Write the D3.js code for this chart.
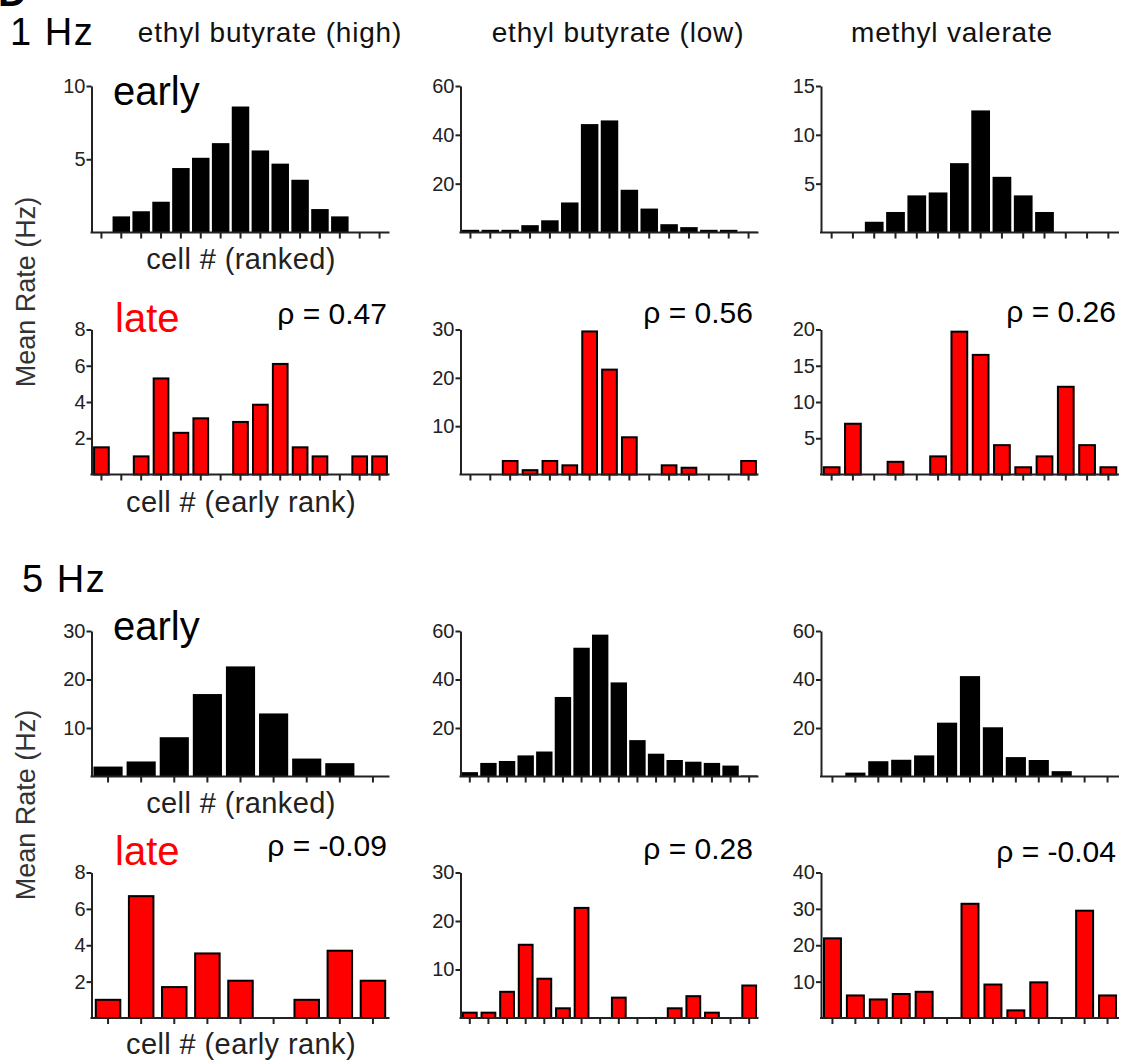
<!DOCTYPE html>
<html>
<head>
<meta charset="utf-8">
<script src="https://cdn.jsdelivr.net/npm/d3@7"></script>
<style>
  body { margin: 0; background: #fff; }
  svg { display: block; font-family: "Liberation Sans", Arial, sans-serif; }
  .axis path, .axis line { stroke: #222; stroke-width: 2; }
  .axis text { fill: #222; font-size: 20px; }
</style>
</head>
<body>
<svg id="fig" width="1121" height="1062"></svg>
<script>
const odors = ["ethyl butyrate (high)", "ethyl butyrate (low)", "methyl valerate"];

// mean rates, one array per odor, cells ordered by early rank
const early1Hz = [
    [0, 1.1, 1.45, 2.1, 4.4, 5.1, 6.1, 8.6, 5.6, 4.7, 3.6, 1.6, 1.1, 0, 0],
    [1.1, 1.1, 1.1, 3.0, 5.0, 12.3, 44.4, 45.9, 17.5, 9.8, 3.4, 2.2, 1.1, 1.1, 0.3],
    [0, 0, 1.1, 2.1, 3.8, 4.1, 7.1, 12.5, 5.7, 3.8, 2.1, 0, 0, 0]
];
const late1Hz = [
    [1.5, 0, 1.0, 5.3, 2.3, 3.1, 0, 2.9, 3.85, 6.1, 1.5, 1.0, 0, 1.0, 1.0],
    [0, 0, 2.8, 0.9, 2.8, 1.9, 29.6, 21.7, 7.7, 0, 1.9, 1.4, 0, 0, 2.8],
    [1.0, 7.0, 0, 1.75, 0, 2.5, 19.7, 16.5, 4.05, 1.0, 2.5, 12.1, 4.05, 1.0]
];
const early5Hz = [
    [2.05, 3.1, 8.1, 17.0, 22.7, 13.0, 3.7, 2.75, 0],
    [1.8, 5.6, 6.4, 8.7, 10.3, 32.8, 53.1, 58.5, 38.8, 15.0, 9.4, 6.8, 6.1, 5.6, 4.5, 0.4],
    [0, 1.6, 6.3, 6.9, 8.7, 22.2, 41.4, 20.3, 8.0, 6.8, 2.2, 0, 0]
];
const late5Hz = [
    [1.0, 6.7, 1.7, 3.55, 2.05, 0, 1.0, 3.7, 2.05],
    [1.1, 1.1, 5.4, 15.1, 8.1, 2.0, 22.7, 0, 4.2, 0, 0, 2.0, 4.5, 1.1, 0, 6.7],
    [21.9, 6.2, 5.1, 6.6, 7.2, 0, 31.4, 9.2, 2.1, 9.8, 0, 29.5, 6.2]
];

const rho1Hz = ["0.47", "0.56", "0.26"];
const rho5Hz = ["-0.09", "0.28", "-0.04"];

// y axis tick values per panel (last one is the axis top)
const ticksEarly1Hz = [[5, 10], [20, 40, 60], [5, 10, 15]];
const ticksLate1Hz = [[2, 4, 6, 8], [10, 20, 30], [5, 10, 15, 20]];
const ticksEarly5Hz = [[10, 20, 30], [20, 40, 60], [20, 40, 60]];
const ticksLate5Hz = [[2, 4, 6, 8], [10, 20, 30], [10, 20, 30, 40]];

const svg = d3.select("#fig");

const colLeft = [91.5, 460.5, 821],
    colWidth = 298,
    rows = [
        { top: 86, base: 232.5 },
        { top: 329.5, base: 474.5 },
        { top: 631, base: 776.5 },
        { top: 872.5, base: 1018 }
    ];

function drawPanel(values, ticks, col, row, late) {
    const x0 = colLeft[col],
        r = rows[row],
        yMax = ticks[ticks.length - 1];

    const x = d3.scaleBand()
        .domain(d3.range(values.length))
        .range([x0, x0 + colWidth])
        .paddingInner(late ? 0.26 : 0.12)
        .paddingOuter(late ? 0.13 : 0.06);

    const y = d3.scaleLinear()
        .domain([0, yMax])
        .range([r.base, r.top]);

    const g = svg.append("g");

    // only non-zero cells get a bar
    g.selectAll("rect")
        .data(d3.range(values.length).filter(function (i) { return values[i] > 0; }))
        .enter()
        .append("rect")
        .attr("x", function (i) { return x(i); })
        .attr("y", function (i) { return y(values[i]); })
        .attr("width", x.bandwidth())
        .attr("height", function (i) { return r.base - y(values[i]); })
        .attr("fill", late ? "#ff0000" : "#000")
        .attr("stroke", late ? "#000" : "none")
        .attr("stroke-width", 2);

    g.append("g")
        .attr("class", "axis")
        .attr("transform", "translate(" + x0 + ",0)")
        .call(d3.axisLeft(y).tickValues(ticks).tickSize(5).tickSizeOuter(0).tickPadding(1));

    g.append("g")
        .attr("class", "axis")
        .attr("transform", "translate(0," + r.base + ")")
        .call(d3.axisBottom(x).tickSize(6).tickSizeOuter(0).tickFormat(""))
        .select(".domain")
        .attr("d", "M" + (x0 - 1) + ",0H" + (x0 + colWidth));
}

[early1Hz, late1Hz, early5Hz, late5Hz].forEach(function (set, row) {
    const tickSet = [ticksEarly1Hz, ticksLate1Hz, ticksEarly5Hz, ticksLate5Hz][row];
    set.forEach(function (values, col) {
        drawPanel(values, tickSet[col], col, row, row % 2 === 1);
    });
});

// labels
function label(txt, xPos, yPos, size, opts) {
    opts = opts || {};
    const t = svg.append("text")
        .attr("x", xPos)
        .attr("y", yPos)
        .attr("font-size", size)
        .attr("fill", opts.fill || "#000")
        .attr("text-anchor", opts.anchor || "start")
        .text(txt);
    if (opts.bold) t.attr("font-weight", "bold");
    if (opts.spacing) t.attr("letter-spacing", opts.spacing);
    if (opts.rotate) t.attr("transform", "rotate(-90," + xPos + "," + yPos + ")");
    return t;
}

// panel letter, cut by the top edge as in the source figure
label("D", -2, 6, 40, { bold: true });
label("1 Hz", 10, 45, 38, { spacing: 1.5 });
label("5 Hz", 22, 592, 38, { spacing: 1.5 });

const titleX = [270, 618, 952];
odors.forEach(function (o, i) { label(o, titleX[i], 42, 28, { anchor: "middle", fill: "#111", spacing: 0.8 }); });

label("early", 113, 105, 40);
label("early", 113, 640, 40);
label("late", 115, 332, 40, { fill: "#ff0000" });
label("late", 115, 865, 40, { fill: "#ff0000" });

const rhoRight = [387, 753, 1116];
const rhoBase1 = [324, 323, 322];
const rhoBase5 = [856, 859, 862];
rho1Hz.forEach(function (v, i) { label("\u03c1 = " + v, rhoRight[i], rhoBase1[i], 30, { anchor: "end" }); });
rho5Hz.forEach(function (v, i) { label("\u03c1 = " + v, rhoRight[i], rhoBase5[i], 30, { anchor: "end" }); });

label("cell # (ranked)", 241, 269, 29, { anchor: "middle", fill: "#222", spacing: 0.4 });
label("cell # (early rank)", 241, 512, 29, { anchor: "middle", fill: "#222", spacing: 0.4 });
label("cell # (ranked)", 241, 813, 29, { anchor: "middle", fill: "#222", spacing: 0.4 });
label("cell # (early rank)", 241, 1054, 29, { anchor: "middle", fill: "#222", spacing: 0.4 });

label("Mean Rate (Hz)", 35, 292, 27, { anchor: "middle", fill: "#333", rotate: true });
label("Mean Rate (Hz)", 35, 805, 27, { anchor: "middle", fill: "#333", rotate: true });
</script>
</body>
</html>
